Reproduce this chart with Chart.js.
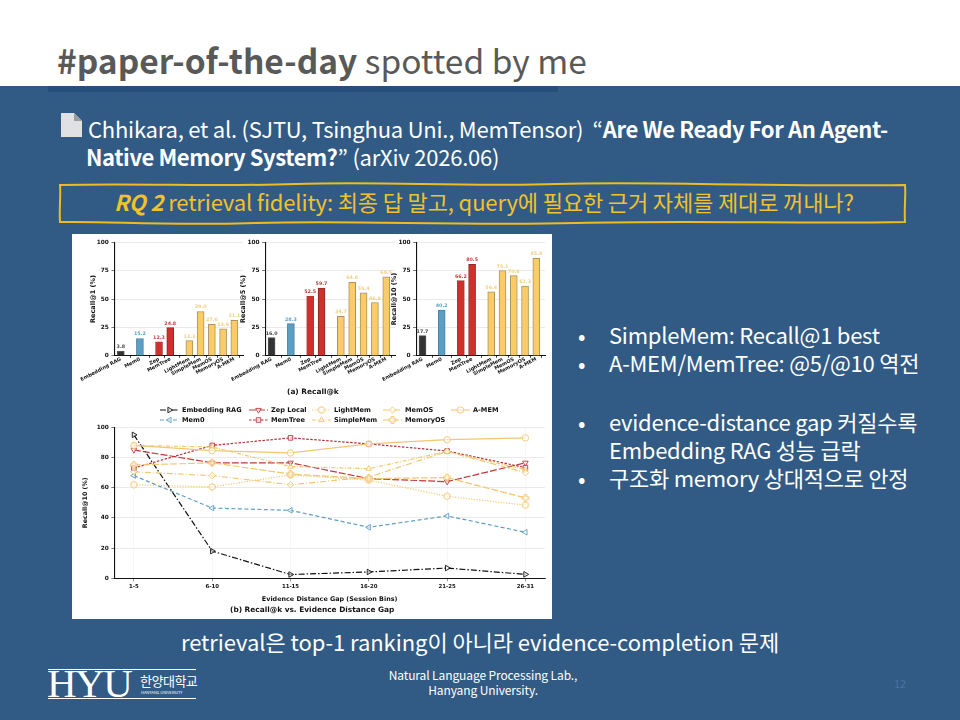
<!DOCTYPE html>
<html>
<head>
<meta charset="utf-8">
<script src="https://cdn.jsdelivr.net/npm/chart.js@4"></script>
<style>
html, body { margin: 0; padding: 0; overflow: hidden; }
#slide { position: relative; width: 960px; height: 720px; background: #315b84; overflow: hidden; font-family: "Noto Sans CJK KR", "Noto Sans", sans-serif; color: #fff; }
#slide > div, #slide > svg, #slide > canvas { position: absolute; white-space: nowrap; }
#head { left: 0; top: 0; width: 960px; height: 86px; background: #fff; }
#strip { left: 48px; top: 86px; width: 510px; height: 6px; background: #274f7c; }
#panel { left: 72px; top: 234px; width: 480px; height: 385px; background: #fff; }
#title { left: 57px; top: 38px; font-size: 33.5px; line-height: 44px; color: #595959; }
.ref { left: 88px; font-size: 22px; line-height: 28px; letter-spacing: -0.22px; }
.ref b { letter-spacing: -0.4px; }
#rq { left: 114px; top: 186px; font-size: 22px; line-height: 30px; color: #f2c12e; letter-spacing: -0.13px; }
.bl { left: 609px; font-size: 22px; line-height: 28px; letter-spacing: -0.25px; }
.dot { left: 578px; font-size: 22px; line-height: 28px; }
.cap { font: bold 7.4px "DejaVu Sans"; color: #111; line-height: 10px; }
#concl { left: 181px; top: 626px; font-size: 22px; line-height: 30px; letter-spacing: -0.06px; }
.lab { left: 340px; width: 286px; text-align: center; font-size: 12px; line-height: 15px; letter-spacing: -0.1px; }
#pg { left: 894px; top: 675px; font-size: 11px; color: #4a74a0; }
#hyu { left: 47px; top: 660px; font: 41px/46px "Liberation Serif"; letter-spacing: -1.5px; }
#kr { left: 140px; top: 673px; font-size: 13px; line-height: 16px; letter-spacing: -0.5px; }
#en { left: 141px; top: 690px; font-size: 4px; line-height: 5px; }
.rule { left: 48px; width: 148px; height: 1px; background: #fff; }
canvas { filter: blur(0.22px); }
</style>
</head>
<body>
<div id="slide">
  <div id="head"></div>
  <div id="strip"></div>
  <div id="title"><b>#paper-of-the-day</b> spotted by me</div>

  <svg style="left:60px;top:112px" width="24" height="26" viewBox="0 0 24 26">
    <path d="M1 1 H14 L22 9 V25 H1 Z" fill="#dfe1e3"/>
    <path d="M14 1 L22 9 H14 Z" fill="#9a9da0"/>
  </svg>
  <div class="ref" style="top:114px">Chhikara, et al. (SJTU, Tsinghua Uni., MemTensor)&nbsp; “<b>Are We Ready For An Agent-</b></div>
  <div class="ref" style="top:142px;left:86px"><b>Native Memory System?</b>” (arXiv 2026.06)</div>

  <svg style="left:56px;top:181px" width="854" height="46" viewBox="0 0 854 46">
    <path d="M4 4 C90 2 150 6 240 3 S400 6 500 3 S700 6 849 4 C850 14 848 28 849 41 C740 43 640 39 520 42 S300 39 200 42 S60 40 4 41 C3 28 5 14 4 4 Z" fill="none" stroke="#eebc22" stroke-width="2"/>
  </svg>
  <div id="rq"><b><i>RQ 2</i></b> retrieval fidelity: 최종 답 말고, query에 필요한 근거 자체를 제대로 꺼내나?</div>

  <div id="panel"></div>
  <canvas id="bar1" width="174" height="156" style="left:76px;top:236px"></canvas>
  <canvas id="bar2" width="170" height="156" style="left:230px;top:236px"></canvas>
  <canvas id="bar3" width="172" height="156" style="left:380px;top:236px"></canvas>
  <div class="cap" style="left:287px;top:387px">(a) Recall@k</div>
  <canvas id="gap" width="474" height="206" style="left:76px;top:400px"></canvas>
  <div class="cap" style="left:230px;top:605px">(b) Recall@k vs. Evidence Distance Gap</div>

  <div class="dot" style="top:320px">•</div><div class="bl" style="top:320px">SimpleMem: Recall@1 best</div>
  <div class="dot" style="top:348px">•</div><div class="bl" style="top:348px">A-MEM/MemTree: @5/@10 역전</div>
  <div class="dot" style="top:407px">•</div><div class="bl" style="top:407px">evidence-distance gap 커질수록</div>
  <div class="bl" style="top:435px">Embedding RAG 성능 급락</div>
  <div class="dot" style="top:463px">•</div><div class="bl" style="top:463px">구조화 memory 상대적으로 안정</div>

  <div id="concl">retrieval은 top-1 ranking이 아니라 evidence-completion 문제</div>

  <div class="rule" style="top:669px"></div>
  <div class="rule" style="top:698px"></div>
  <div id="hyu">HYU</div>
  <div id="kr">한양대학교</div>
  <div id="en">HANYANG UNIVERSITY</div>
  <div class="lab" style="top:667px">Natural Language Processing Lab.,</div>
  <div class="lab" style="top:682px">Hanyang University.</div>
  <div id="pg">12</div>
</div>

<script>
// bar panels (a)
const systems = ['Embedding RAG', 'Mem0', 'Zep', 'MemTree', 'LightMem', 'SimpleMem', 'MemOS', 'MemoryOS', 'A-MEM'];
const groupOf = [0, 1, 2, 2, 3, 3, 3, 3, 3];
const recallAt1 = [3.8, 15.2, 12.3, 24.8, 13.3, 39.0, 27.6, 23.6, 31.1];
const recallAt5 = [16.0, 28.3, 52.5, 59.7, 34.7, 64.6, 55.4, 46.9, 69.5];
const recallAt10 = [17.7, 40.2, 66.2, 80.5, 56.4, 75.1, 70.6, 61.3, 85.8];
const yTicks = [0, 25, 50, 75, 100];

// line panel (b)
const gapBins = ['1-5', '6-10', '11-15', '16-20', '21-25', '26-31'];
const embeddingRag = [95, 18, 2.5, 4.2, 6.8, 2.6];
const mem0 = [68, 46.5, 45, 33.8, 41.3, 30.5];
const zepLocal = [85, 76.5, 76.5, 66, 64, 76.5];
const memTree = [73, 88, 93, 89, 84.3, 73.3];
const lightMem = [62, 60.5, 68.5, 65, 54.3, 48.5];
const simpleMem = [88, 87, 74, 72.6, 84, 72];
const memOS = [70.5, 68, 62, 67, 84, 70];
const memoryOS = [75, 76.5, 69, 66, 66.7, 53.2];
const aMem = [88, 84.5, 83, 89, 91.8, 93];

const BLACK = '#333333', BLUE = '#5b9fc4', RED = '#cf302c', YELLOW = '#fbcb68';
const barColors = [BLACK, BLUE, RED, RED, YELLOW, YELLOW, YELLOW, YELLOW, YELLOW];
const edgeColors = ['#555', '#4b7f9c', '#a83a36', '#8a2a28', '#a8945c', '#a8945c', '#a8945c', '#a8945c', '#a8945c'];
const valueColors = ['#444', BLUE, '#c43c3c', '#c43c3c', '#f0cf80', '#f0cf80', '#f0cf80', '#f0cf80', '#f0cf80'];

Chart.defaults.animation = false;
Chart.defaults.font.family = '"DejaVu Sans"';
Chart.defaults.font.weight = 'bold';
Chart.defaults.color = '#111';

// x positions: 1 step inside a group, 1.7 between groups
const xPos = [];
systems.forEach((s, i) => {
    if (i == 0) xPos.push(0);
    else xPos.push(xPos[i - 1] + (groupOf[i] != groupOf[i - 1] ? 1.7 : 1));
});

const valueLabels = {
    id: 'valueLabels',
    afterDatasetsDraw(chart) {
        const ctx = chart.ctx;
        const meta = chart.getDatasetMeta(0);
        ctx.save();
        ctx.font = 'bold 4.8px "DejaVu Sans"';
        ctx.textAlign = 'center';
        meta.data.forEach((bar, i) => {
            ctx.fillStyle = valueColors[i];
            ctx.fillText(chart.data.datasets[0].data[i].y.toFixed(1), bar.x, bar.y - 3);
        });
        ctx.restore();
    }
};

function draftBar(id, values, title, padLeft, padRight) {
    new Chart(document.getElementById(id), {
        type: 'bar',
        data: {
            datasets: [{
                data: values.map((v, i) => ({ x: xPos[i], y: v })),
                backgroundColor: barColors,
                borderColor: edgeColors,
                borderWidth: 1,
                barThickness: 7
            }]
        },
        plugins: [valueLabels],
        options: {
            responsive: false,
            layout: { padding: { left: padLeft, right: padRight, top: 6.3, bottom: 0 } },
            plugins: { legend: { display: false }, tooltip: { enabled: false } },
            scales: {
                x: {
                    type: 'linear',
                    offset: false,
                    bounds: 'data',
                    min: -0.57,
                    max: 10.87,
                    grid: { drawOnChartArea: false, tickColor: '#222', tickLength: 2 },
                    border: { color: '#111', width: 1.1 },
                    afterBuildTicks: s => { s.ticks = xPos.map(v => ({ value: v })); },
                    afterFit: s => { s.height = 36.3; s.paddingLeft = 0; s.paddingRight = 0; },
                    ticks: {
                        autoSkip: false,
                        minRotation: 28,
                        maxRotation: 28,
                        padding: -1.5,
                        font: { size: 5 },
                        callback: (v, i) => systems[i]
                    }
                },
                y: {
                    min: 0,
                    max: 100,
                    afterBuildTicks: s => { s.ticks = yTicks.map(v => ({ value: v })); },
                    afterFit: s => { s.width = 25.4; },
                    title: { display: true, text: title, font: { size: 6.5 }, padding: 0 },
                    border: { color: '#111', width: 1.1 },
                    grid: { color: '#dcdcdc', lineWidth: 0.6, tickColor: '#222', tickLength: 3 },
                    ticks: { padding: 2.5, font: { size: 5.8 } }
                }
            }
        }
    });
}

draftBar('bar1', recallAt1, 'Recall@1 (%)', 13, 7);
draftBar('bar2', recallAt5, 'Recall@5 (%)', 9.7, 5);
draftBar('bar3', recallAt10, 'Recall@10 (%)', 10.7, 7);

// matplotlib-like markers the library has no style for
function polyMarker(points, radius) {
    const c = document.createElement('canvas');
    c.width = c.height = 10;
    const x = c.getContext('2d');
    x.fillStyle = 'rgba(255,255,255,0.55)';
    x.strokeStyle = '#f2c46d';
    x.lineWidth = 1;
    x.beginPath();
    points.forEach((p, i) => {
        const px = 5 + p[0] * radius, py = 5 + p[1] * radius;
        if (i == 0) x.moveTo(px, py); else x.lineTo(px, py);
    });
    x.closePath();
    x.fill();
    x.stroke();
    return c;
}
const hexMarker = polyMarker([[0, -1], [0.87, -0.5], [0.87, 0.5], [0, 1], [-0.87, 0.5], [-0.87, -0.5]], 3.4);
const plusMarker = polyMarker([[-0.35, -1], [0.35, -1], [0.35, -0.35], [1, -0.35], [1, 0.35], [0.35, 0.35], [0.35, 1], [-0.35, 1], [-0.35, 0.35], [-1, 0.35], [-1, -0.35], [-0.35, -0.35]], 3.4);

const lineColor = '#f3c670';
const series = [
    { label: 'Embedding RAG', data: embeddingRag, color: '#111', dash: [6, 2, 1.5, 2], style: 'triangle', rot: 90 },
    { label: 'Mem0', data: mem0, color: '#5f9fc0', dash: [4, 2.5], style: 'triangle', rot: -90 },
    { label: 'Zep Local', data: zepLocal, color: '#bf3a3c', dash: [7, 2], style: 'triangle', rot: 180 },
    { label: 'MemTree', data: memTree, color: '#b5303a', dash: [2.5, 1.5], style: 'rect', rot: 0 },
    { label: 'LightMem', data: lightMem, color: lineColor, dash: [1.2, 1.5], style: hexMarker, rot: 0 },
    { label: 'SimpleMem', data: simpleMem, color: lineColor, dash: [4, 1.5, 1, 1.5], style: 'triangle', rot: 0 },
    { label: 'MemOS', data: memOS, color: lineColor, dash: [6, 2, 1, 2], style: 'rectRot', rot: 0 },
    { label: 'MemoryOS', data: memoryOS, color: lineColor, dash: [7, 2], style: plusMarker, rot: 0 },
    { label: 'A-MEM', data: aMem, color: lineColor, dash: [], style: 'circle', rot: 0 }
];

const legendCols = [160, 249, 312, 383, 451];
const legendRows = [410, 420];
const lineLegend = {
    id: 'lineLegend',
    afterDraw(chart) {
        const ctx = chart.ctx;
        ctx.save();
        ctx.font = 'bold 6.6px "DejaVu Sans"';
        ctx.textBaseline = 'middle';
        series.forEach((s, i) => {
            const col = Math.floor(i / 2);
            const x = legendCols[col] - chart.canvas.offsetLeft;
            const y = legendRows[i % 2] - chart.canvas.offsetTop;
            ctx.strokeStyle = s.color;
            ctx.lineWidth = 1.1;
            ctx.setLineDash(s.dash);
            ctx.beginPath();
            ctx.moveTo(x, y);
            ctx.lineTo(x + 19, y);
            ctx.stroke();
            ctx.setLineDash([]);
            ctx.fillStyle = 'rgba(255,255,255,0.55)';
            ctx.lineWidth = 0.9;
            Chart.helpers.drawPoint(ctx, { pointStyle: s.style, radius: 3.2, rotation: s.rot, borderWidth: 0.9 }, x + 9.5, y);
            ctx.fillStyle = '#111';
            ctx.fillText(s.label, x + 22, y);
        });
        ctx.restore();
    }
};

new Chart(document.getElementById('gap'), {
    type: 'line',
    data: {
        datasets: series.map((s, i) => ({
            label: s.label,
            data: s.data.map((v, k) => ({ x: k, y: v })),
            borderColor: s.color,
            borderWidth: 1.2,
            borderDash: s.dash,
            tension: 0,
            order: series.length - i,
            pointStyle: s.style,
            pointRotation: s.rot,
            pointRadius: 3.2,
            pointBorderWidth: 0.9,
            pointBorderColor: s.color,
            pointBackgroundColor: 'rgba(255,255,255,0.55)'
        }))
    },
    plugins: [lineLegend],
    options: {
        responsive: false,
        layout: { padding: { left: 5.7, right: 5, top: 27.3, bottom: 2.7 } },
        plugins: { legend: { display: false }, tooltip: { enabled: false } },
        scales: {
            x: {
                type: 'linear',
                bounds: 'data',
                min: -0.25,
                max: 5.25,
                afterBuildTicks: s => { s.ticks = gapBins.map((b, i) => ({ value: i })); },
                afterFit: s => { s.height = 25; s.paddingLeft = 0; s.paddingRight = 0; },
                title: { display: true, text: 'Evidence Distance Gap (Session Bins)', font: { size: 6.4 }, padding: { top: 2, bottom: 0 } },
                border: { color: '#111', width: 1.1 },
                grid: { color: '#efefef', lineWidth: 0.5, tickColor: '#222', tickLength: 3 },
                ticks: { autoSkip: false, maxRotation: 0, padding: 2, font: { size: 5.4 }, callback: (v, i) => gapBins[i] }
            },
            y: {
                min: 0,
                max: 100,
                ticks: { stepSize: 20, padding: 2.5, font: { size: 5.8 } },
                afterFit: s => { s.width = 32.6; },
                title: { display: true, text: 'Recall@10 (%)', font: { size: 6.3 }, padding: 0 },
                border: { color: '#111', width: 1.1 },
                grid: { color: '#dcdcdc', lineWidth: 0.6, tickColor: '#222', tickLength: 3 }
            }
        }
    }
});
</script>
</body>
</html>
